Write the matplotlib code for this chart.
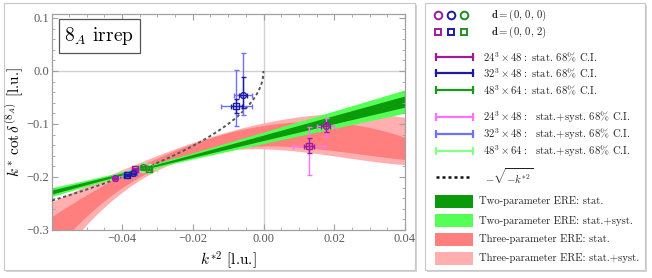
import numpy as np
import matplotlib
matplotlib.use('Agg')
import matplotlib.pyplot as plt
from matplotlib.patches import Rectangle

plt.rcParams['mathtext.fontset'] = 'cm'
plt.rcParams['axes.unicode_minus'] = True

# ---------------- data ----------------
x_ticks = [-0.04, -0.02, 0.00, 0.02, 0.04]
x_ticklabels = ['\u22120.04', '\u22120.02', '0.00', '0.02', '0.04']
y_ticks = [-0.3, -0.2, -0.1, 0.0, 0.1]
y_ticklabels = ['\u22120.3', '\u22120.2', '\u22120.1', '0.0', '0.1']

# energy levels: x, y, x_stat, y_stat_lo, y_stat_hi, x_sys, y_sys_lo, y_sys_hi
l24_circ_x = [-0.0419, 0.0176]
l24_circ_y = [-0.2010, -0.1040]
l24_circ_xs = [0.0006, 0.0013]
l24_circ_ysl = [0.002, 0.011]
l24_circ_ysh = [0.002, 0.008]
l24_circ_xS = [0.0010, 0.0024]
l24_circ_ySl = [0.003, 0.019]
l24_circ_ySh = [0.003, 0.015]

l24_sq_x = [-0.0363, 0.0129]
l24_sq_y = [-0.1850, -0.1410]
l24_sq_xs = [0.0006, 0.0015]
l24_sq_ysl = [0.002, 0.014]
l24_sq_ysh = [0.002, 0.014]
l24_sq_xS = [0.0010, 0.0046]
l24_sq_ySl = [0.004, 0.055]
l24_sq_ySh = [0.004, 0.036]

l32_circ_x = [-0.0369, -0.0058]
l32_circ_y = [-0.1925, -0.0450]
l32_circ_xs = [0.0006, 0.0010]
l32_circ_ysl = [0.002, 0.025]
l32_circ_ysh = [0.002, 0.033]
l32_circ_xS = [0.0010, 0.0026]
l32_circ_ySl = [0.004, 0.038]
l32_circ_ySh = [0.004, 0.078]

l32_sq_x = [-0.0387, -0.0077]
l32_sq_y = [-0.1955, -0.0660]
l32_sq_xs = [0.0006, 0.0015]
l32_sq_ysl = [0.002, 0.014]
l32_sq_ysh = [0.002, 0.013]
l32_sq_xS = [0.0010, 0.0044]
l32_sq_ySl = [0.004, 0.037]
l32_sq_ySh = [0.004, 0.068]

l48_circ_x = [-0.0340]
l48_circ_y = [-0.1820]
l48_circ_xs = [0.0008]
l48_circ_ysl = [0.003]
l48_circ_ysh = [0.003]
l48_circ_xS = [0.0025]
l48_circ_ySl = [0.008]
l48_circ_ySh = [0.008]

l48_sq_x = [-0.0325]
l48_sq_y = [-0.1840]
l48_sq_xs = [0.0008]
l48_sq_ysl = [0.003]
l48_sq_ysh = [0.003]
l48_sq_xS = [0.0025]
l48_sq_ySl = [0.008]
l48_sq_ySh = [0.008]

# two-parameter ERE: centre line and pivot-type uncertainty
ere2_intercept = -0.126
ere2_slope = 1.711
ere2_pivot = -0.035
ere2_stat_h0, ere2_stat_s = 0.0018, 0.138
ere2_sys_h0, ere2_sys_s = 0.0040, 0.288

# three-parameter ERE bands: edges read at these k*^2 nodes
ere3_nodes = [-0.06, -0.04, -0.02, 0.00, 0.02, 0.04]
ere3_stat_hi = [-0.275, -0.197, -0.137, -0.102, -0.098, -0.125]
ere3_stat_lo = [-0.350, -0.205, -0.172, -0.145, -0.140, -0.171]
ere3_sys_hi = [-0.245, -0.194, -0.130, -0.093, -0.088, -0.085]
ere3_sys_lo = [-0.380, -0.208, -0.180, -0.152, -0.146, -0.182]

c_purple, c_blue, c_green = '#9c1c9c', '#1c1ca0', '#1f8f1f'
c_purple_l, c_blue_l, c_green_l = '#ff70ff', '#7070ff', '#88ff88'
c_g_dark, c_g_light = '#0a9a0a', '#55ff55'
c_r_dark, c_r_light = '#ff7f7f', '#ffafaf'

# ---------------- figure ----------------
W, H = 652, 278
fig = plt.figure(figsize=(W / 100, H / 100), dpi=100)

bg = fig.add_axes([0, 0, 1, 1], zorder=0)
bg.set_xlim(0, W)
bg.set_ylim(H, 0)
bg.axis('off')

def panel(x0, y0, x1, y1):
    bg.add_patch(Rectangle((x0 + 2, y0 + 2), x1 - x0, y1 - y0, facecolor='#d4d4d4',
                           edgecolor='none', zorder=0))
    bg.add_patch(Rectangle((x0, y0), x1 - x0, y1 - y0, facecolor='white',
                           edgecolor='#c8c8c8', lw=0.8, zorder=1))

panel(4, 3, 415, 270)
panel(425, 3, 645, 270)

ax = fig.add_axes([52 / W, 1 - 230 / H, 353 / W, 216 / H], zorder=2)
ax.set_xlim(-0.0598, 0.04)
ax.set_ylim(-0.3, 0.1075)

xx = np.linspace(-0.0598, 0.04, 400)

# three-parameter bands
def smooth(nodes, vals):
    return np.polyval(np.polyfit(nodes, vals, 3), xx)

ax.fill_between(xx, smooth(ere3_nodes, ere3_sys_lo), smooth(ere3_nodes, ere3_sys_hi),
                color=c_r_light, lw=0, zorder=1)
ax.fill_between(xx, smooth(ere3_nodes, ere3_stat_lo), smooth(ere3_nodes, ere3_stat_hi),
                color=c_r_dark, lw=0, zorder=1.1)

# two-parameter bands
cen = ere2_intercept + ere2_slope * xx
hs = np.sqrt(ere2_sys_h0 ** 2 + (ere2_sys_s * (xx - ere2_pivot)) ** 2)
ht = np.sqrt(ere2_stat_h0 ** 2 + (ere2_stat_s * (xx - ere2_pivot)) ** 2)
ax.fill_between(xx, cen - hs, cen + hs, color=c_g_light, lw=0, zorder=1.2)
ax.fill_between(xx, cen - ht, cen + ht, color=c_g_dark, lw=0, zorder=1.3)

ax.axhline(0, color='#d0d0d0', lw=1.0, zorder=0.5)
ax.axvline(0, color='#d0d0d0', lw=1.0, zorder=0.5)

xd = np.linspace(-0.0598, 0.0, 400)
ax.plot(xd, -np.sqrt(-xd), color='#555555', lw=1.4, ls=(0, (1.6, 1.4)), zorder=3)

def levels(x, y, xs, ysl, ysh, xS, ySl, ySh, cd, cl, marker):
    ax.errorbar(x, y, xerr=xS, yerr=[ySl, ySh], fmt='none', ecolor=cl, elinewidth=1.0,
                capsize=1.8, capthick=1.0, zorder=4)
    ax.errorbar(x, y, xerr=xs, yerr=[ysl, ysh], fmt='none', ecolor=cd, elinewidth=1.0,
                capsize=1.8, capthick=1.0, zorder=5)
    ax.plot(x, y, ls='none', marker=marker, mfc='none', mec=cd, mew=1.0,
            ms=4.2 if marker == 'o' else 3.8, zorder=6)

levels(l24_circ_x, l24_circ_y, l24_circ_xs, l24_circ_ysl, l24_circ_ysh, l24_circ_xS,
       l24_circ_ySl, l24_circ_ySh, c_purple, c_purple_l, 'o')
levels(l24_sq_x, l24_sq_y, l24_sq_xs, l24_sq_ysl, l24_sq_ysh, l24_sq_xS,
       l24_sq_ySl, l24_sq_ySh, c_purple, c_purple_l, 's')
levels(l48_circ_x, l48_circ_y, l48_circ_xs, l48_circ_ysl, l48_circ_ysh, l48_circ_xS,
       l48_circ_ySl, l48_circ_ySh, c_green, c_green_l, 'o')
levels(l48_sq_x, l48_sq_y, l48_sq_xs, l48_sq_ysl, l48_sq_ysh, l48_sq_xS,
       l48_sq_ySl, l48_sq_ySh, c_green, c_green_l, 's')
levels(l32_circ_x, l32_circ_y, l32_circ_xs, l32_circ_ysl, l32_circ_ysh, l32_circ_xS,
       l32_circ_ySl, l32_circ_ySh, c_blue, c_blue_l, 'o')
levels(l32_sq_x, l32_sq_y, l32_sq_xs, l32_sq_ysl, l32_sq_ysh, l32_sq_xS,
       l32_sq_ySl, l32_sq_ySh, c_blue, c_blue_l, 's')

# axes styling (Mathematica frame look)
for s in ax.spines.values():
    s.set_color('#a0a0a0')
    s.set_linewidth(0.9)
ax.set_xticks(x_ticks)
ax.set_xticklabels(x_ticklabels)
ax.set_yticks(y_ticks)
ax.set_yticklabels(y_ticklabels)
ax.set_xticks(np.arange(-0.055, 0.0401, 0.005), minor=True)
ax.set_yticks(np.arange(-0.3, 0.101, 0.02), minor=True)
ax.tick_params(which='both', direction='in', top=True, right=True, color='#a0a0a0',
               labelcolor='#5a5a5a', labelsize=9, pad=2)
ax.tick_params(which='major', length=4, width=0.8)
ax.tick_params(which='minor', length=2.2, width=0.6)
for lab in ax.get_xticklabels() + ax.get_yticklabels():
    lab.set_fontfamily('Liberation Serif')

ax.set_xlabel(r'$k^{*2}$ [l.u.]', fontfamily='cmr10', fontsize=11, labelpad=3)
ax.set_ylabel(r'$k^*\,\cot\delta^{(8_A)}$ [l.u.]', fontfamily='cmr10', fontsize=11,
              labelpad=1)

ax.text(0.035, 0.95, r'$8_A$ irrep', transform=ax.transAxes, fontfamily='cmr10',
        fontsize=14, ha='left', va='top', zorder=10,
        bbox=dict(boxstyle='square,pad=0.3', fc='white', ec='#555555', lw=0.9))

# ---------------- legend panel ----------------
fs = 7.7
tx = dict(fontfamily='cmr10', fontsize=fs, va='center', ha='left', color='#222222')
mx = [438, 451, 464]
for cc, xm in zip([c_purple, c_blue, c_green], mx):
    bg.plot(xm, 15, marker='o', ms=5.5, mfc='none', mec=cc, mew=1.4)
    bg.plot(xm, 32, marker='s', ms=4.5, mfc='none', mec=cc, mew=1.4)
bg.text(491, 15, r'$\mathbf{d} = (0,\,0,\,0)$', **tx)
bg.text(491, 32, r'$\mathbf{d} = (0,\,0,\,2)$', **tx)

rows = [(57, c_purple, r'$24^3\times 48:$ stat. 68% C.I.'),
        (73, c_blue, r'$32^3\times 48:$ stat. 68% C.I.'),
        (90, '#1a9a1a', r'$48^3\times 64:$ stat. 68% C.I.'),
        (117, c_purple_l, r'$24^3\times 48:$  stat.+syst. 68% C.I.'),
        (134, c_blue_l, r'$32^3\times 48:$  stat.+syst. 68% C.I.'),
        (151, c_green_l, r'$48^3\times 64:$  stat.+syst. 68% C.I.')]
for yy, cc, lab in rows:
    bg.plot([436, 473], [yy, yy], color=cc, lw=1.6)
    bg.plot([436, 473], [yy, yy], ls='none', marker='|', ms=6, mew=1.6, color=cc)
    bg.text(483, yy, lab, **tx)

bg.plot([436, 470], [176.5, 176.5], color='#111111', lw=1.8, ls=(0, (1.2, 1.2)))
bg.text(485, 176.5, r'$-\sqrt{-k^{*2}}$', **tx)

sw = [(201.5, c_g_dark, 'Two-parameter ERE: stat.'),
      (220.5, c_g_light, 'Two-parameter ERE: stat.+syst.'),
      (239.5, c_r_dark, 'Three-parameter ERE: stat.'),
      (258, c_r_light, 'Three-parameter ERE: stat.+syst.')]
for yy, cc, lab in sw:
    bg.add_patch(Rectangle((434.5, yy - 6.5), 38, 13, facecolor=cc, edgecolor='none',
                           zorder=2))
    bg.text(479, yy, lab, **tx)

fig.savefig('out.png', dpi=100)
